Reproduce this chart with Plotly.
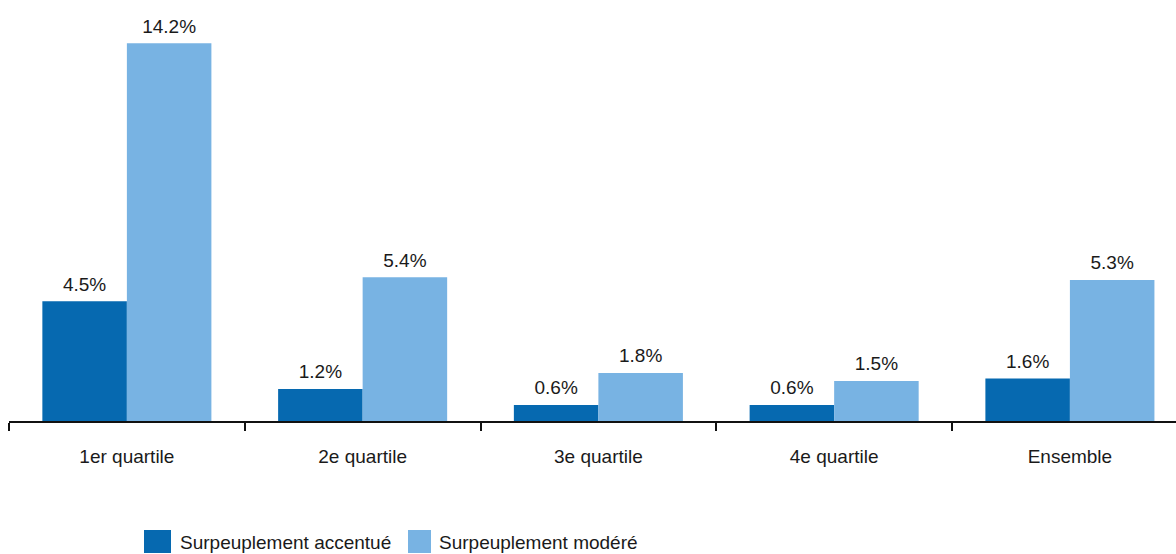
import plotly.graph_objects as go

# Categories and values (percent of households)
categories = ["1er quartile", "2e quartile", "3e quartile", "4e quartile", "Ensemble"]
accentue = [4.5, 1.2, 0.6, 0.6, 1.6]
modere = [14.2, 5.4, 1.8, 1.5, 5.3]
series_names = ["Surpeuplement accentué", "Surpeuplement modéré"]
colors = ["#0669B0", "#78B3E3"]

FONT = "Liberation Sans Narrow, Arial Narrow, Liberation Sans, Arial, sans-serif"
FS = 19
TXT = "#1a1a1a"
W, H = 1176, 554
M_L, M_R, M_T, M_B = 9, 0, 22, 133
GAP = 0.283

fig = go.Figure()
for name, vals, col, grp in zip(series_names, [accentue, modere], colors, ["a", "b"]):
    fig.add_trace(go.Bar(
        x=categories, y=vals, name=name, marker=dict(color=col, line=dict(width=0)),
        offsetgroup=grp, showlegend=False, hoverinfo="skip",
    ))
    # value labels sitting above each bar
    fig.add_trace(go.Scatter(
        x=categories, y=vals, mode="markers+text", offsetgroup=grp,
        text=[f"{v:.1f}%" for v in vals], textposition="top center",
        textfont=dict(family=FONT, size=FS, color=TXT),
        marker=dict(size=8, opacity=0), showlegend=False, hoverinfo="skip",
        cliponaxis=False,
    ))

# helpers for placing the legend in pixel terms
def px_x(p):
    return (p - M_L) / (W - M_L - M_R)

def px_y(p):
    return (H - M_B - p) / (H - M_T - M_B)

shapes = []
annotations = []
legend_items = [(144, 171, 178), (408, 431, 437)]
for (x0, x1, tx), name, col in zip(legend_items, series_names, colors):
    shapes.append(dict(type="rect", xref="paper", yref="paper",
                       x0=px_x(x0), x1=px_x(x1), y0=px_y(553), y1=px_y(530),
                       fillcolor=col, line=dict(width=0), layer="above"))
    annotations.append(dict(xref="paper", yref="paper", x=px_x(tx), y=px_y(542),
                            text=name, showarrow=False, xanchor="left", yanchor="middle",
                            font=dict(family=FONT, size=FS, color=TXT)))

fig.update_layout(
    width=W, height=H,
    margin=dict(l=M_L, r=M_R, t=M_T, b=M_B, pad=0),
    paper_bgcolor="white", plot_bgcolor="white",
    barmode="group", bargap=GAP, bargroupgap=0,
    scattermode="group", scattergap=GAP,
    font=dict(family=FONT, size=FS, color=TXT),
    shapes=shapes, annotations=annotations,
    xaxis=dict(
        type="category", range=[-0.5, 4.45],
        showline=True, linecolor="#111111", linewidth=2,
        ticks="outside", tickson="boundaries", ticklen=8, tickwidth=1.5, tickcolor="#111111",
        ticklabelstandoff=17,
        showgrid=False, zeroline=False,
        tickfont=dict(family=FONT, size=FS, color=TXT),
    ),
    yaxis=dict(range=[0, 15], visible=False, showgrid=False, zeroline=False),
)

fig.write_html("out.html")
